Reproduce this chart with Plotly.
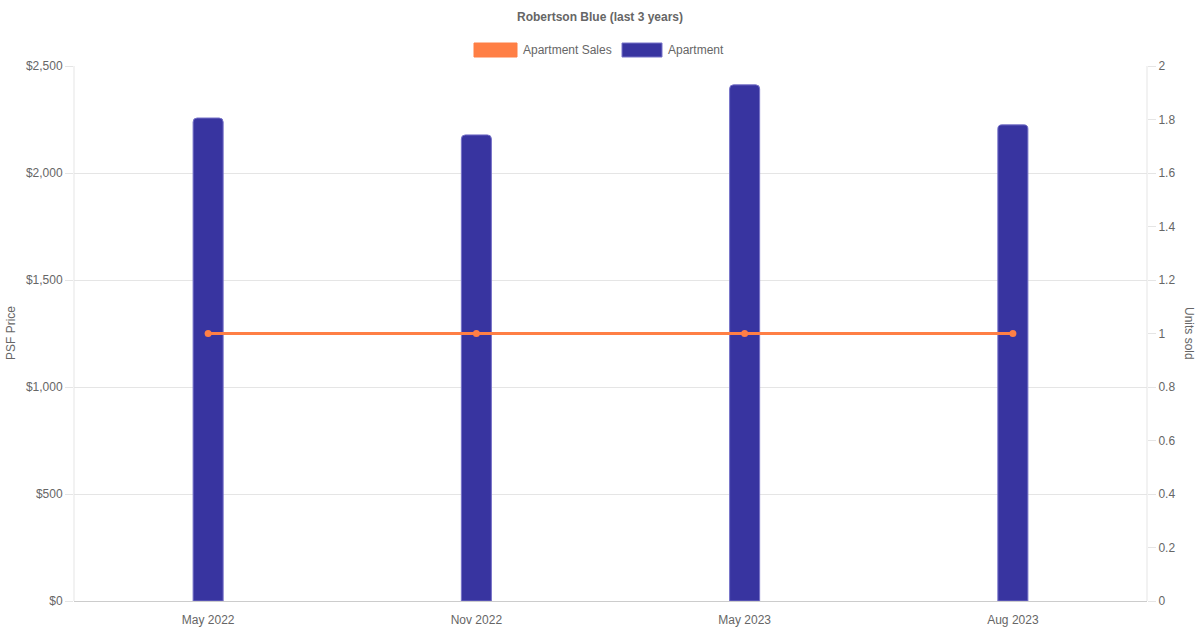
import plotly.graph_objects as go

# --- data ---
PERIODS = ["May 2022", "Nov 2022", "May 2023", "Aug 2023"]
PSF_PRICE = [2257, 2178, 2412, 2225]
UNITS_SOLD = [1, 1, 1, 1]

LEFT_TICKS = [0, 500, 1000, 1500, 2000, 2500]
RIGHT_TICKS = [0, 0.2, 0.4, 0.6, 0.8, 1, 1.2, 1.4, 1.6, 1.8, 2]

BAR_COLOR = "#3834a0"
BAR_EDGE = "#7672c8"
LINE_COLOR = "#ff7f45"
TEXT_COLOR = "#666666"
GRID_COLOR = "#e5e5e5"
FONT = "Liberation Sans, Arial, sans-serif"

W, H = 1200, 630
PLOT_L, PLOT_T, PLOT_W, PLOT_H = 74, 66, 1073, 535  # plot area in pixels


def px(x):
    return (x - PLOT_L) / PLOT_W


def py(y):
    return (PLOT_T + PLOT_H - y) / PLOT_H


fig = go.Figure()

fig.add_trace(
    go.Bar(
        x=PERIODS,
        y=PSF_PRICE,
        name="Apartment",
        marker=dict(color=BAR_COLOR, line=dict(color=BAR_EDGE, width=1), cornerradius=4),
        width=0.112,
        yaxis="y",
        showlegend=False,
    )
)

fig.add_trace(
    go.Scatter(
        x=PERIODS,
        y=UNITS_SOLD,
        name="Apartment Sales",
        mode="lines+markers",
        line=dict(color=LINE_COLOR, width=3),
        marker=dict(color=LINE_COLOR, size=7),
        yaxis="y2",
        showlegend=False,
    )
)

axis_common = dict(
    showline=False,
    zeroline=False,
    ticks="outside",
    ticklen=8,
    tickcolor=GRID_COLOR,
    tickfont=dict(family=FONT, size=12, color=TEXT_COLOR),
    fixedrange=True,
    automargin=False,
)

fig.update_layout(
    width=W,
    height=H,
    margin=dict(l=PLOT_L, r=W - PLOT_L - PLOT_W, t=PLOT_T, b=H - PLOT_T - PLOT_H),
    plot_bgcolor="white",
    paper_bgcolor="white",
    font=dict(family=FONT, size=12, color=TEXT_COLOR),
    showlegend=False,
    title=dict(
        text="<b>Robertson Blue (last 3 years)</b>",
        x=0.5,
        xanchor="center",
        y=1 - 17 / H,
        yanchor="middle",
        font=dict(family=FONT, size=12, color=TEXT_COLOR),
    ),
    xaxis=dict(
        type="category",
        showgrid=False,
        showline=True,
        linecolor="#cccccc",
        linewidth=1,
        ticks="",
        ticklabelstandoff=8,
        tickfont=dict(family=FONT, size=12, color=TEXT_COLOR),
        fixedrange=True,
        automargin=False,
    ),
    yaxis=dict(
        range=[0, 2500],
        tickvals=LEFT_TICKS,
        ticktext=["${:,}".format(v) for v in LEFT_TICKS],
        showgrid=True,
        gridcolor=GRID_COLOR,
        **axis_common,
    ),
    yaxis2=dict(
        range=[0, 2],
        tickvals=RIGHT_TICKS,
        ticktext=["{:g}".format(v) for v in RIGHT_TICKS],
        overlaying="y",
        side="right",
        showgrid=False,
        **axis_common,
    ),
)

# vertical frame lines at both sides of the plot area
for xp in (0, 1):
    fig.add_shape(
        type="line", xref="paper", yref="paper", x0=xp, x1=xp, y0=0, y1=1,
        line=dict(color=GRID_COLOR, width=1), layer="below",
    )

# axis titles
fig.add_annotation(
    x=px(11), y=py(333), xref="paper", yref="paper", text="PSF Price",
    showarrow=False, textangle=-90, xanchor="center", yanchor="middle",
    font=dict(family=FONT, size=12, color=TEXT_COLOR),
)
fig.add_annotation(
    x=px(1189), y=py(333), xref="paper", yref="paper", text="Units sold",
    showarrow=False, textangle=90, xanchor="center", yanchor="middle",
    font=dict(family=FONT, size=12, color=TEXT_COLOR),
)

# custom legend with wide swatches
legend_items = [
    ("Apartment Sales", LINE_COLOR, LINE_COLOR, 474, 517),
    ("Apartment", BAR_COLOR, BAR_EDGE, 622, 662),
]
for label, fill, edge, x0, x1 in legend_items:
    fig.add_shape(
        type="rect", xref="paper", yref="paper",
        x0=px(x0), x1=px(x1), y0=py(57), y1=py(43),
        fillcolor=fill, line=dict(color=edge, width=1),
    )
    fig.add_annotation(
        x=px(x1 + 4), y=py(50), xref="paper", yref="paper",
        text=label, showarrow=False, xanchor="left", yanchor="middle",
        font=dict(family=FONT, size=12, color=TEXT_COLOR),
    )

# drop the default page margin so the figure sits flush in the window
fig.write_html(
    "out.html",
    config={"displayModeBar": False},
    post_script="document.body.style.margin = '0';",
)
